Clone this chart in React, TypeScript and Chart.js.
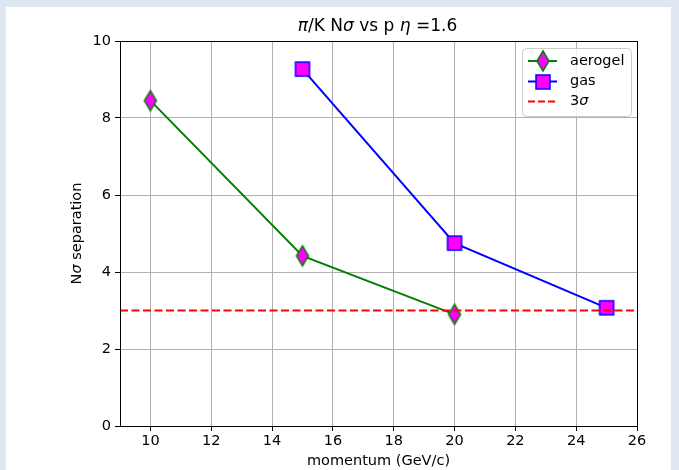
import React, { useEffect, useRef } from "react";
import { Chart, registerables } from "chart.js";

Chart.register(...registerables);

const aerogelP = [10, 15, 20];
const aerogelN = [8.45, 4.42, 2.9];
const gasP = [15, 20, 25];
const gasN = [9.27, 4.75, 3.07];
const sigmaP = [9, 26];
const sigmaN = [3, 3];
const xTicks = [10, 12, 14, 16, 18, 20, 22, 24, 26];
const yTicks = [0, 2, 4, 6, 8, 10];

const FONT = '"DejaVu Sans", sans-serif';

function makeDiamond(): HTMLCanvasElement {
  const c = document.createElement("canvas");
  c.width = 16;
  c.height = 24;
  const g = c.getContext("2d")!;
  g.beginPath();
  g.moveTo(8, 2);
  g.lineTo(14, 12);
  g.lineTo(8, 22);
  g.lineTo(2, 12);
  g.closePath();
  g.fillStyle = "#ff00ff";
  g.fill();
  g.lineWidth = 1.5;
  g.strokeStyle = "#008000";
  g.stroke();
  return c;
}

function makeSquare(): HTMLCanvasElement {
  const c = document.createElement("canvas");
  c.width = 18;
  c.height = 18;
  const g = c.getContext("2d")!;
  g.fillStyle = "#ff00ff";
  g.fillRect(2, 2, 14, 14);
  g.lineWidth = 1.5;
  g.strokeStyle = "#0000ff";
  g.strokeRect(2, 2, 14, 14);
  return c;
}

type Seg = { t: string; it?: boolean };

function drawSegs(ctx: CanvasRenderingContext2D, segs: Seg[], size: number, x: number, y: number, align: "center" | "left") {
  const fontOf = (s: Seg) => `${s.it ? "italic " : ""}${size}px ${FONT}`;
  let total = 0;
  for (const s of segs) {
    ctx.font = fontOf(s);
    total += ctx.measureText(s.t).width;
  }
  let cx = align === "center" ? x - total / 2 : x;
  ctx.textAlign = "left";
  ctx.textBaseline = "middle";
  for (const s of segs) {
    ctx.font = fontOf(s);
    ctx.fillText(s.t, cx, y);
    cx += ctx.measureText(s.t).width;
  }
}

export default function App() {
  const ref = useRef<HTMLCanvasElement>(null);
  useEffect(() => {
    const diamond = makeDiamond();
    const square = makeSquare();

    const decor = {
      id: "decor",
      beforeDraw(chart: any) {
        const ctx = chart.ctx as CanvasRenderingContext2D;
        ctx.save();
        ctx.fillStyle = "#dde6f1";
        ctx.fillRect(0, 0, chart.width, chart.height);
        ctx.fillStyle = "#ffffff";
        ctx.fillRect(6, 7, 665, 470);
        ctx.restore();
      },
      afterDraw(chart: any) {
        const ctx = chart.ctx as CanvasRenderingContext2D;
        const a = chart.chartArea;
        ctx.save();
        ctx.strokeStyle = "#000000";
        ctx.lineWidth = 1;
        ctx.strokeRect(Math.round(a.left) + 0.5, Math.round(a.top) + 0.5, Math.round(a.right - a.left), Math.round(a.bottom - a.top));
        ctx.fillStyle = "#000000";
        const cxm = (a.left + a.right) / 2;
        drawSegs(ctx, [{ t: "π", it: true }, { t: "/K N" }, { t: "σ", it: true }, { t: " vs p " }, { t: "η", it: true }, { t: " =1.6" }], 17, cxm - 1, 27, "center");
        drawSegs(ctx, [{ t: "momentum (GeV/c)" }], 14.5, cxm, 461, "center");
        ctx.save();
        ctx.translate(77, (a.top + a.bottom) / 2);
        ctx.rotate(-Math.PI / 2);
        drawSegs(ctx, [{ t: "N" }, { t: "σ", it: true }, { t: " separation" }], 14.5, 0, 0, "center");
        ctx.restore();

        // legend
        const lx = 522.5, ly = 48.5, lw = 109, lh = 68, r = 4;
        ctx.beginPath();
        ctx.moveTo(lx + r, ly);
        ctx.arcTo(lx + lw, ly, lx + lw, ly + lh, r);
        ctx.arcTo(lx + lw, ly + lh, lx, ly + lh, r);
        ctx.arcTo(lx, ly + lh, lx, ly, r);
        ctx.arcTo(lx, ly, lx + lw, ly, r);
        ctx.closePath();
        ctx.fillStyle = "rgba(255,255,255,0.8)";
        ctx.fill();
        ctx.strokeStyle = "#cccccc";
        ctx.lineWidth = 1;
        ctx.stroke();

        const rows = [
          { y: 61, color: "#008000", dash: [] as number[], img: diamond as HTMLCanvasElement | null, label: [{ t: "aerogel" }] as Seg[] },
          { y: 81.5, color: "#0000ff", dash: [] as number[], img: square as HTMLCanvasElement | null, label: [{ t: "gas" }] as Seg[] },
          { y: 101.5, color: "#ff0000", dash: [7, 3], img: null, label: [{ t: "3" }, { t: "σ", it: true }] as Seg[] },
        ];
        for (const row of rows) {
          ctx.beginPath();
          ctx.setLineDash(row.dash);
          ctx.strokeStyle = row.color;
          ctx.lineWidth = 2;
          ctx.moveTo(528, row.y);
          ctx.lineTo(557, row.y);
          ctx.stroke();
          ctx.setLineDash([]);
          if (row.img) ctx.drawImage(row.img, Math.round(542.5 - row.img.width / 2), Math.round(row.y - row.img.height / 2));
          ctx.fillStyle = "#000000";
          drawSegs(ctx, row.label, 14.5, 570, row.y, "left");
        }
        ctx.restore();
      },
    };

    const toPts = (xs: number[], ys: number[]) => xs.map((x, i) => ({ x, y: ys[i] }));

    const chart = new Chart(ref.current!, {
      type: "line",
      data: {
        datasets: [
          {
            label: "3σ",
            data: toPts(sigmaP, sigmaN),
            borderColor: "#ff0000",
            borderWidth: 2,
            borderDash: [8, 3.5],
            pointRadius: 0,
            fill: false,
            order: 0,
          },
          {
            label: "gas",
            data: toPts(gasP, gasN),
            borderColor: "#0000ff",
            borderWidth: 2,
            pointStyle: square as any,
            pointRadius: 9,
            fill: false,
            order: 1,
          },
          {
            label: "aerogel",
            data: toPts(aerogelP, aerogelN),
            borderColor: "#008000",
            borderWidth: 2,
            pointStyle: diamond as any,
            pointRadius: 10,
            fill: false,
            order: 2,
          },
        ] as any,
      },
      options: {
        responsive: false,
        animation: false,
        devicePixelRatio: 1,
        layout: { padding: { left: 70, right: 42, top: 41, bottom: 14 } },
        plugins: { legend: { display: false }, title: { display: false }, tooltip: { enabled: false } },
        elements: { line: { tension: 0 } },
        scales: {
          x: {
            type: "linear",
            min: 9,
            max: 26,
            afterBuildTicks: (s: any) => {
              s.ticks = xTicks.map((v) => ({ value: v }));
            },
            afterFit: (s: any) => {
              s.height = 30;
            },
            grid: { color: "#b0b0b0", lineWidth: 1, tickColor: "#000000", tickLength: 5 },
            border: { display: true, color: "#000000", width: 1 },
            ticks: { color: "#000000", font: { family: FONT, size: 14.5 }, padding: 2, maxRotation: 0, autoSkip: false },
          },
          y: {
            type: "linear",
            min: 0,
            max: 10,
            afterBuildTicks: (s: any) => {
              s.ticks = yTicks.map((v) => ({ value: v }));
            },
            afterFit: (s: any) => {
              s.width = 50;
            },
            grid: { color: "#b0b0b0", lineWidth: 1, tickColor: "#000000", tickLength: 5 },
            border: { display: true, color: "#000000", width: 1 },
            ticks: { color: "#000000", font: { family: FONT, size: 14.5 }, padding: 4, autoSkip: false },
          },
        },
      } as any,
      plugins: [decor],
    });
    return () => chart.destroy();
  }, []);

  return (
    <div style={{ position: "fixed", left: 0, top: 0, width: 679, height: 470 }}>
      <canvas ref={ref} width={679} height={470} style={{ width: 679, height: 470, display: "block" }} />
    </div>
  );
}
